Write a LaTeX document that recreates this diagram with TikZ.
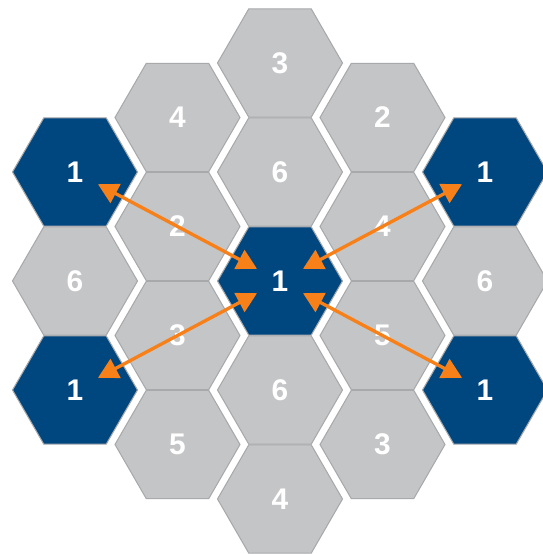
\documentclass[tikz,border=0pt]{standalone}
\usepackage{fontspec}
\setmainfont{Liberation Sans}
\usetikzlibrary{arrows.meta, shapes.geometric}
\definecolor{hexgray}{RGB}{196,197,199}
\definecolor{hexline}{RGB}{168,169,171}
\definecolor{hexblue}{RGB}{0,70,127}
\definecolor{arroworange}{RGB}{247,128,25}

\begin{document}
\begin{tikzpicture}[
    x=0.02cm, y=-0.02cm,
    hex/.style={regular polygon, regular polygon sides=6, draw=hexline, line width=0.6pt, fill=hexgray, minimum size=2.5cm, inner sep=0pt, outer sep=0pt, text=white, font=\fontsize{17}{18}\selectfont\bfseries},
    hot/.style={hex, fill=hexblue},
    arrow/.style={{Triangle[length=0.4cm, width=0.42cm]}-{Triangle[length=0.4cm, width=0.42cm]}, line width=1.9pt, draw=arroworange, shorten <=0.52cm, shorten >=0.52cm}
]
\useasboundingbox (0,0) rectangle (543,554);
% first column
\node[hot] (a1) at (75,172) {1};
\node[hex] (a2) at (75,281) {6};
\node[hot] (a3) at (75,390) {1};
% second column
\node[hex] (b1) at (177.5,117.5) {4};
\node[hex] (b2) at (177.5,226.5) {2};
\node[hex] (b3) at (177.5,335.5) {3};
\node[hex] (b4) at (177.5,444.5) {5};
% middle column
\node[hex] (c1) at (280,63) {3};
\node[hex] (c2) at (280,172) {6};
\node[hot] (c3) at (280,281) {1};
\node[hex] (c4) at (280,390) {6};
\node[hex] (c5) at (280,499) {4};
% fourth column
\node[hex] (d1) at (382.5,117.5) {2};
\node[hex] (d2) at (382.5,226.5) {4};
\node[hex] (d3) at (382.5,335.5) {5};
\node[hex] (d4) at (382.5,444.5) {3};
% last column
\node[hot] (e1) at (485,172) {1};
\node[hex] (e2) at (485,281) {6};
\node[hot] (e3) at (485,390) {1};
% arrows
\draw[arrow] (a1.center) -- (c3.center);
\draw[arrow] (a3.center) -- (c3.center);
\draw[arrow] (e1.center) -- (c3.center);
\draw[arrow] (e3.center) -- (c3.center);
\end{tikzpicture}
\end{document}
